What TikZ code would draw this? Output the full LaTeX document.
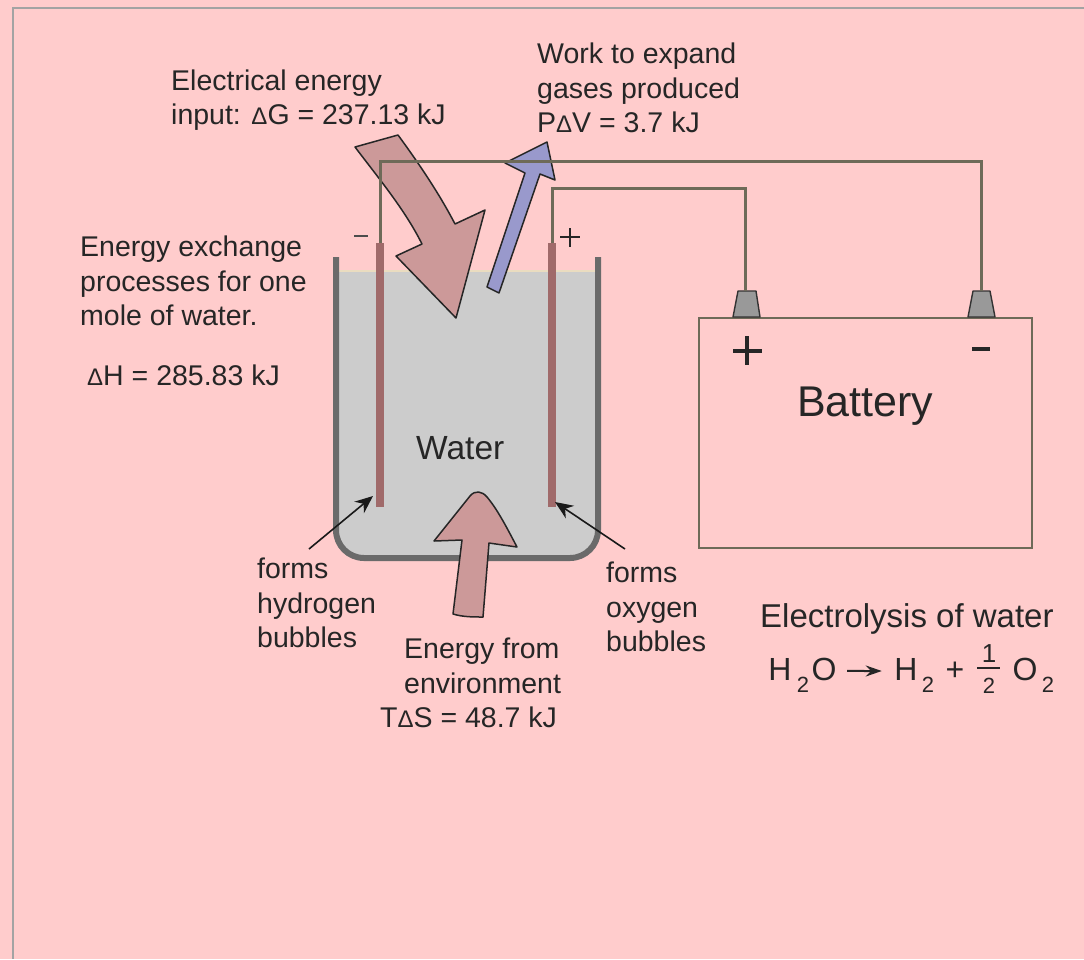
\documentclass[tikz,border=0pt]{standalone}
\usepackage{fontspec}
\setmainfont{Liberation Sans}
\usetikzlibrary{arrows.meta}
\definecolor{bgpink}{HTML}{FFCCCC}
\definecolor{framegray}{HTML}{A3A3A3}
\definecolor{wirecol}{HTML}{6E6A58}
\definecolor{wallgray}{HTML}{6A6A6A}
\definecolor{watergray}{HTML}{CCCCCC}
\definecolor{surfacecol}{HTML}{EADCC0}
\definecolor{platecol}{HTML}{A06A6A}
\definecolor{heatred}{HTML}{CC9999}
\definecolor{workblue}{HTML}{9999CC}
\definecolor{posttone}{HTML}{999999}
\newcommand{\smalldelta}{{\fontsize{24}{24}\selectfont Δ}}
\tikzset{
  lbl/.style={font=\fontsize{28.5}{34.5}\selectfont, align=left, inner sep=0pt, anchor=west, text=black!85},
  eqn/.style={font=\fontsize{32}{32}\selectfont, inner sep=0pt, anchor=base, text=black!85},
  eqsub/.style={font=\fontsize{22}{22}\selectfont, inner sep=0pt, anchor=base, text=black!85},
  wire/.style={draw=wirecol, line width=3pt},
  post/.style={draw=black!80, line width=1.4pt, fill=posttone, line join=round},
  bigarrow/.style={draw=black!85, line width=1.5pt, line join=round},
  pointer/.style={draw=black!90, line width=1.6pt, -{Stealth[length=18pt,width=15pt]}},
}
\begin{document}
\begin{tikzpicture}[x=1pt,y=-1pt]
    \useasboundingbox (0,0) rectangle (1084,959);
    \fill[bgpink] (0,0) rectangle (1084,959);
    \draw[framegray, line width=2.5pt] (13,959) -- (13,8) -- (1084,8);

    % Tank with water
    \fill[watergray] (336,271) -- (336,530) arc (180:90:28) -- (570,558) arc (90:0:28) -- (598,271) -- cycle;
    \draw[surfacecol, line width=1.5pt] (339,271) -- (595,271);
    \draw[wallgray, line width=6pt] (336,257) -- (336,530) arc (180:90:28) -- (570,558) arc (90:0:28) -- (598,257);

    % Electrodes
    \coordinate (cathodetop) at (380,243);
    \coordinate (anodetop) at (552,243);
    \draw[platecol, line width=8pt] (cathodetop) -- (380,507);
    \draw[platecol, line width=8pt] (anodetop) -- (552,507);

    % Energy arrows
    \draw[bigarrow, fill=heatred] (355,147) -- (398,135) .. controls (420,165) and (440,195) .. (455,224)
      -- (485,210) -- (456,318) -- (396,256) -- (422,244) .. controls (405,210) and (380,180) .. cycle;
    \draw[bigarrow, fill=workblue] (487,287) -- (499,293) -- (540,174) -- (555,180) -- (547,142) -- (505,163) -- (525,173) -- cycle;
    \draw[bigarrow, fill=heatred] (453,614) .. controls (463,617) and (473,617) .. (483,617) -- (489,543) -- (517,547)
      .. controls (508,530) and (498,510) .. (487,497) .. controls (482,491) and (475,490) .. (470,496)
      -- (434,541) -- (462,540) -- cycle;

    % Battery
    \node[draw=wirecol, line width=2pt, minimum width=333pt, minimum height=230pt, inner sep=0pt, anchor=north west] (battery) at (698,317) {};
    \draw[post] (733,317) -- (738,291) -- (756,291) -- (760,317) -- cycle;
    \draw[post] (968,317) -- (973,291) -- (990,291) -- (995,317) -- cycle;
    \coordinate (pluspost) at (745,291);
    \coordinate (minuspost) at (981,291);

    % Wires
    \draw[wire] (cathodetop) -- (380,161) -| (minuspost);
    \draw[wire] (anodetop) -- (552,188) -| (pluspost);

    % Signs
    \draw[black!85, line width=3.2pt] (733,351) -- (762,351) (747,336) -- (747,365);
    \draw[black!85, line width=3.5pt] (972,349) -- (990,349);
    \draw[black!70, line width=1.8pt] (354,236) -- (368,236);
    \draw[black!85, line width=2pt] (560,237) -- (580,237) (570,228) -- (570,247);

    % Labels
    \node[lbl] (inputlbl) at (171,100) {Electrical energy\\input: \smalldelta G = 237.13 kJ};
    \node[lbl] (worklbl) at (537,88) {Work to expand\\gases produced\\P\smalldelta V = 3.7 kJ};
    \node[lbl] (molelbl) at (80,281) {Energy exchange\\processes for one\\mole of water.};
    \node[lbl] (enthalpylbl) at (87,375) {\smalldelta H = 285.83 kJ};
    \node[lbl, font=\fontsize{33.5}{33.5}\selectfont] (waterlbl) at (416,448) {Water};
    \node[lbl] (hydrogenlbl) at (257,603) {forms\\hydrogen\\bubbles};
    \node[lbl] (oxygenlbl) at (606,607) {forms\\oxygen\\bubbles};
    \node[lbl] (envlbl) at (380,683) {\hspace{24pt}Energy from\\\hspace{24pt}environment\\T\smalldelta S = 48.7 kJ};
    \node[lbl, font=\fontsize{43}{43}\selectfont] (batterylbl) at (797,406) {Battery};
    \node[lbl, font=\fontsize{33}{33}\selectfont] (titlelbl) at (760,619) {Electrolysis of water};

    % Pointers to the electrodes
    \coordinate (hydrotail) at (309,549);
    \coordinate (hydrotip) at (373,496);
    \coordinate (oxytail) at (625,549);
    \coordinate (oxytip) at (555,502);
    \draw[pointer] (hydrotail) -- (hydrotip);
    \draw[pointer] (oxytail) -- (oxytip);

    % Reaction
    \node[eqn] (eqhone) at (780,680) {H};
    \node[eqsub] (eqsone) at (803,692) {2};
    \node[eqn] (eqo) at (824,680) {O};
    \node[eqn] (eqhtwo) at (906,680) {H};
    \node[eqsub] (eqstwo) at (928,692) {2};
    \node[eqn] (eqplus) at (955,680) {+};
    \node[eqsub, font=\fontsize{26}{26}\selectfont] (eqnum) at (989,662) {1};
    \node[eqsub] (eqden) at (989,693) {2};
    \node[eqn] (eqotwo) at (1025,680) {O};
    \node[eqsub] (eqsthree) at (1048,692) {2};
    \draw[black!85, line width=2pt, -{Stealth[length=16pt,width=11pt]}] ([xshift=10.5pt,yshift=-2pt]eqo.east) -- ([xshift=-12.5pt,yshift=-2pt]eqhtwo.west);
    \draw[black!85, line width=2pt] (977,668) -- (1000,668);
  \end{tikzpicture}
\end{document}
